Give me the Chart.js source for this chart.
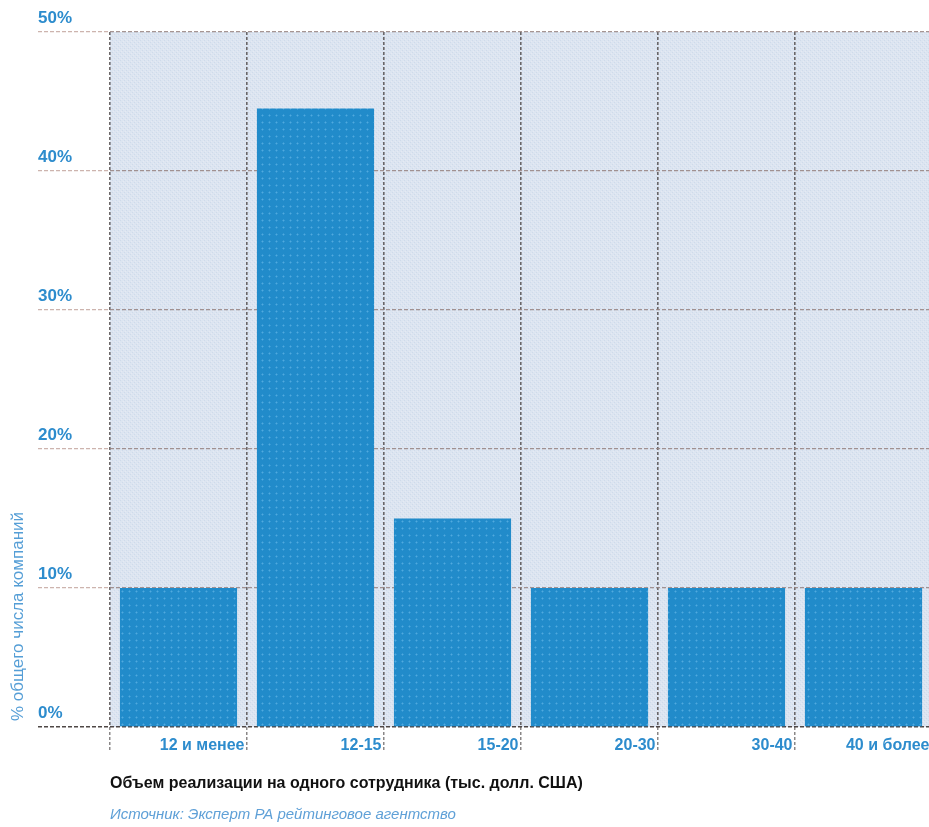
<!DOCTYPE html>
<html>
<head>
<meta charset="utf-8">
<script src="https://cdn.jsdelivr.net/npm/chart.js@4/dist/chart.umd.min.js"></script>
<style>
  html, body { margin: 0; padding: 0; background: #ffffff; overflow: hidden; }
  #wrap { width: 935px; height: 827px; }
</style>
</head>
<body>
<div id="wrap"><canvas id="chart" width="935" height="827"></canvas></div>
<script>
// Revenue per employee bands (thousand USD) and share of companies in each band
const categories = ['12 и менее', '12-15', '15-20', '20-30', '30-40', '40 и более'];
const shares = [10, 44.5, 15, 10, 10, 10];
const yMin = 0;
const yMax = 50;
const yStep = 10;
const yAxisTitle = '% общего числа компаний';
const xAxisTitle = 'Объем реализации на одного сотрудника (тыс. долл. США)';
const sourceNote = 'Источник: Эксперт РА рейтинговое агентство';

const BLUE_TEXT = 'rgb(45,140,205)';
const FONT = '"Liberation Sans", Arial, sans-serif';

// small repeating tiles that give the plot and the bars their printed texture
function tile(size, base, spots) {
  const c = document.createElement('canvas');
  c.width = size; c.height = size;
  const g = c.getContext('2d');
  g.fillStyle = base;
  g.fillRect(0, 0, size, size);
  spots.forEach(([x, y, col]) => { g.fillStyle = col; g.fillRect(x, y, 1, 1); });
  return g.createPattern(c, 'repeat');
}
const cv = document.getElementById('chart');
const plotFill = tile(4, 'rgb(220,229,241)', [
  [0, 0, 'rgb(207,218,234)'], [2, 2, 'rgb(207,218,234)'], [1, 3, 'rgb(230,233,243)'], [3, 1, 'rgb(230,233,243)']
]);
const barFill = tile(7, 'rgb(33,139,202)', [
  [3, 3, 'rgb(80,170,222)'], [3, 2, 'rgb(55,153,212)'], [2, 3, 'rgb(55,153,212)'], [4, 3, 'rgb(55,153,212)'], [3, 4, 'rgb(55,153,212)']
]);

const plotBackground = {
  id: 'plotBackground',
  beforeDraw(chart) {
    const { ctx, chartArea: a } = chart;
    ctx.save();
    ctx.fillStyle = plotFill;
    ctx.fillRect(a.left, a.top, a.right - a.left, a.bottom - a.top);
    ctx.restore();
  }
};

const sideTexts = {
  id: 'sideTexts',
  afterDraw(chart) {
    const { ctx, chartArea: a } = chart;
    ctx.save();
    // vertical axis caption, reading bottom to top
    ctx.translate(18, a.bottom - 6);
    ctx.rotate(-Math.PI / 2);
    ctx.font = '17px ' + FONT;
    ctx.fillStyle = 'rgb(85,158,214)';
    ctx.textAlign = 'left';
    ctx.textBaseline = 'middle';
    ctx.fillText(yAxisTitle, 0, 0);
    ctx.restore();

    ctx.save();
    ctx.font = 'italic 15px ' + FONT;
    ctx.fillStyle = 'rgb(95,160,215)';
    ctx.textAlign = 'left';
    ctx.textBaseline = 'middle';
    ctx.fillText(sourceNote, a.left, 815);
    ctx.restore();
  }
};

new Chart(cv, {
  type: 'bar',
  data: {
    labels: categories,
    datasets: [{
      data: shares,
      backgroundColor: barFill,
      borderWidth: 0,
      barPercentage: 0.855,
      categoryPercentage: 1
    }]
  },
  options: {
    responsive: false,
    animation: false,
    devicePixelRatio: 1,
    layout: { padding: { left: 38, right: 3, top: 32, bottom: 28 } },
    plugins: { legend: { display: false }, tooltip: { enabled: false } },
    scales: {
      x: {
        afterFit(s) { s.height = 72; },
        grid: {
          offset: true,
          color: 'rgba(85,80,80,0.85)',
          lineWidth: 1.6,
          drawTicks: true,
          tickLength: 25,
          tickColor: 'rgba(85,80,80,0.85)',
          tickBorderDash: [3, 2],
          tickWidth: 1.2
        },
        border: { display: false, dash: [3, 2] },
        ticks: {
          align: 'end',
          labelOffset: 66,
          padding: -16,
          maxRotation: 0,
          autoSkip: false,
          color: BLUE_TEXT,
          font: { family: FONT, size: 16, weight: 'bold' }
        },
        title: {
          display: true,
          text: xAxisTitle,
          align: 'start',
          color: '#111111',
          padding: { top: 0, bottom: 6 },
          font: { family: FONT, size: 16, weight: 'bold' }
        }
      },
      y: {
        min: yMin,
        max: yMax,
        z: 1,
        afterFit(s) { s.width = 72; },
        grid: {
          color: (c) => c.tick && c.tick.value === 0 ? 'rgba(70,62,60,0.95)' : 'rgba(150,130,128,0.85)',
          lineWidth: (c) => c.tick && c.tick.value === 0 ? 1.6 : 1.2,
          drawTicks: true,
          tickLength: 72,
          tickColor: (c) => c.tick && c.tick.value === 0 ? 'rgba(70,62,60,0.95)' : 'rgba(200,172,165,0.9)',
          tickBorderDash: [4, 2],
          tickWidth: 1.4
        },
        border: { display: false, dash: [4, 2] },
        ticks: {
          stepSize: yStep,
          crossAlign: 'far',
          labelOffset: -14,
          padding: 0,
          color: BLUE_TEXT,
          font: { family: FONT, size: 17, weight: 'bold' },
          callback: (v) => v + '%'
        }
      }
    }
  },
  plugins: [plotBackground, sideTexts]
});
</script>
</body>
</html>
